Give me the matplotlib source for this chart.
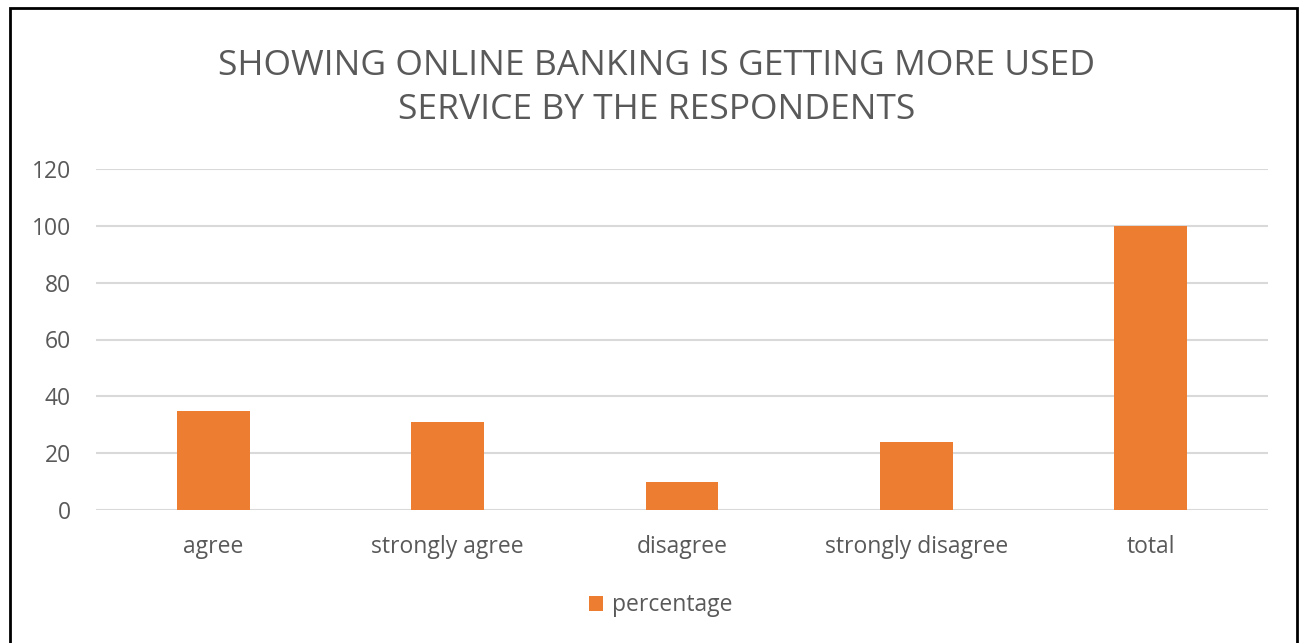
import matplotlib.pyplot as plt
from matplotlib.patches import Rectangle

categories = ['agree', 'strongly agree', 'disagree', 'strongly disagree', 'total']
percentage = [35, 31, 10, 24, 100]
yticks = [0, 20, 40, 60, 80, 100, 120]

grey = '#595959'
plt.rcParams['font.family'] = ['Open Sans', 'DejaVu Sans']

fig = plt.figure(figsize=(13.02, 6.43), dpi=100)
ax = fig.add_axes([96 / 1302, 133 / 643, 1172 / 1302, 341 / 643])

x = range(len(categories))
ax.bar(x, percentage, width=0.31, color='#ED7D31', label='percentage', zorder=3)

ax.set_xlim(-0.5, len(categories) - 0.5)
ax.set_ylim(0, 120)
ax.set_yticks(yticks)
ax.set_xticks(list(x))
ax.set_xticklabels(categories)
ax.tick_params(length=0, labelsize=16.5, colors=grey)
ax.tick_params(axis='y', pad=18)
ax.tick_params(axis='x', pad=18)
ax.grid(axis='y', color='#D9D9D9', linewidth=1.5, zorder=0)
for s in ax.spines.values():
    s.set_visible(False)

fig.text(0.504, 0.863, 'SHOWING ONLINE BANKING IS GETTING MORE USED\nSERVICE BY THE RESPONDENTS',
         ha='center', va='center', fontsize=25.5, color=grey, linespacing=1.4)

ax.legend(loc='center', bbox_to_anchor=(0.482, -0.28), frameon=False, fontsize=16.5,
          labelcolor=grey, handlelength=0.6, handleheight=0.6, handletextpad=0.4)

# frame round the chart
fig.patches.append(Rectangle((10 / 1302, -0.05), 1287 / 1302, 1.05 - 8 / 643,
                             transform=fig.transFigure, fill=False,
                             edgecolor='black', linewidth=2))

fig.savefig('out.png', dpi=100)
